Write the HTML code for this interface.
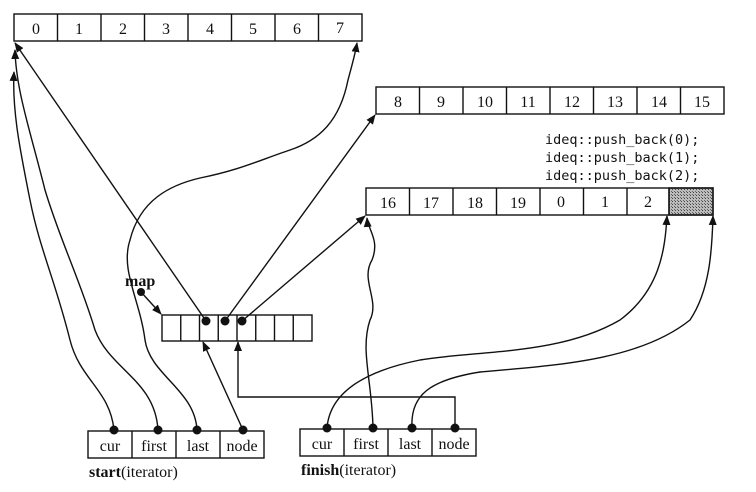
<!DOCTYPE html>
<html><head><style>
body{margin:0;background:#fff;}
svg{display:block;}
text{font-family:"Liberation Serif",serif;font-size:16px;fill:#111;}
.m{font-family:"DejaVu Sans Mono","Liberation Mono",monospace;font-size:13.5px;}
</style></head><body>
<svg width="756" height="492" viewBox="0 0 756 492" xmlns="http://www.w3.org/2000/svg">
<defs>
<marker id="a" markerWidth="10" markerHeight="10" refX="9" refY="5" orient="auto" markerUnits="userSpaceOnUse"><path d="M0,1 L10,5 L0,9 z" fill="#111"/></marker>
<pattern id="d" width="3" height="3" patternUnits="userSpaceOnUse"><rect width="3" height="3" fill="#bbb"/><rect width="1" height="1" fill="#444"/><rect x="2" y="2" width="1" height="1" fill="#666"/></pattern>
</defs>
<g stroke="#111" stroke-width="1.4" fill="none">
<rect x="14" y="14" width="348" height="27"/>
<path d="M57.5,14v27M101,14v27M144.5,14v27M188,14v27M231.5,14v27M275,14v27M318.5,14v27"/>
<rect x="376" y="87" width="348" height="27"/>
<path d="M419.5,87v27M463,87v27M506.5,87v27M550,87v27M593.5,87v27M637,87v27M680.5,87v27"/>
<rect x="669" y="188" width="44" height="27" fill="url(#d)"/>
<rect x="366" y="188" width="347" height="27"/>
<path d="M409.5,188v27M453,188v27M496.5,188v27M540,188v27M583.5,188v27M627,188v27M669,188v27"/>
<rect x="162" y="315" width="150" height="26"/>
<path d="M180.75,315v26M199.5,315v26M218.25,315v26M237,315v26M255.75,315v26M274.5,315v26M293.25,315v26"/>
<rect x="88" y="431" width="176" height="27"/>
<path d="M132,431v27M176,431v27M220,431v27"/>
<rect x="300" y="429" width="176" height="27"/>
<path d="M344,429v27M388,429v27M432,429v27"/>
<path d="M141,292 L161,314" marker-end="url(#a)"/>
<path d="M206,321 L15,43" marker-end="url(#a)"/>
<path d="M225,321 L375,115" marker-end="url(#a)"/>
<path d="M242,321 L365,216" marker-end="url(#a)"/>
<path d="M243,430 L203,342" marker-end="url(#a)"/>
<path d="M455,428 V397 H238 V342" marker-end="url(#a)"/>
<path d="M114,430 C110,390 80,380 70,340 C55,280 40,250 30,200 C20,150 12,110 14,72" marker-end="url(#a)"/>
<path d="M158,430 C155,380 110,370 95,330 C80,280 60,240 45,190 C30,130 16,90 15,50" marker-end="url(#a)"/>
<path d="M197,430 C195,390 150,375 145,340 C140,300 120,270 130,240 C140,200 170,185 200,178 C240,170 260,160 290,150 C320,140 340,120 348,80 C352,65 355,55 357,43" marker-end="url(#a)"/>
<path d="M327,428 C330,390 370,370 420,360 C480,350 560,355 620,320 C660,290 665,250 667,216" marker-end="url(#a)"/>
<path d="M373,428 C372,380 360,350 370,320 C380,300 360,280 372,260 C380,240 368,230 367,218" marker-end="url(#a)"/>
<path d="M412,428 C410,395 430,380 480,372 C560,365 640,360 690,320 C710,290 712,250 713,216" marker-end="url(#a)"/>
</g>
<g fill="#111">
<circle cx="141" cy="292" r="4"/>
<circle cx="206" cy="321" r="4.5"/><circle cx="225" cy="321" r="4.5"/><circle cx="242" cy="321" r="4.5"/>
<circle cx="114" cy="430" r="4.5"/><circle cx="158" cy="430" r="4.5"/><circle cx="197" cy="430" r="4.5"/><circle cx="243" cy="430" r="4.5"/>
<circle cx="327" cy="428" r="4.5"/><circle cx="373" cy="428" r="4.5"/><circle cx="412" cy="428" r="4.5"/><circle cx="455" cy="428" r="4.5"/>
</g>
<g text-anchor="middle">
<text x="36" y="34">0</text><text x="79" y="34">1</text><text x="123" y="34">2</text><text x="166" y="34">3</text><text x="210" y="34">4</text><text x="253" y="34">5</text><text x="297" y="34">6</text><text x="340" y="33">7</text>
<text x="398" y="107">8</text><text x="441" y="107">9</text><text x="485" y="107">10</text><text x="528" y="107">11</text><text x="572" y="107">12</text><text x="615" y="107">13</text><text x="659" y="107">14</text><text x="702" y="107">15</text>
<text x="388" y="208">16</text><text x="431" y="208">17</text><text x="475" y="208">18</text><text x="518" y="208">19</text><text x="561" y="207">0</text><text x="605" y="207">1</text><text x="648" y="207">2</text>
<text x="110" y="451">cur</text><text x="154" y="451">first</text><text x="198" y="451">last</text><text x="242" y="451">node</text>
<text x="322" y="449">cur</text><text x="366" y="449">first</text><text x="410" y="449">last</text><text x="454" y="449">node</text>
</g>
<text x="125" y="286" font-weight="bold">map</text>
<text x="89" y="477"><tspan font-weight="bold">start</tspan>(iterator)</text>
<text x="301" y="475"><tspan font-weight="bold">finish</tspan>(iterator)</text>
<text class="m" x="545" y="144">ideq::push_back(0);</text>
<text class="m" x="545" y="162">ideq::push_back(1);</text>
<text class="m" x="545" y="180">ideq::push_back(2);</text>
</svg>
</body></html>
